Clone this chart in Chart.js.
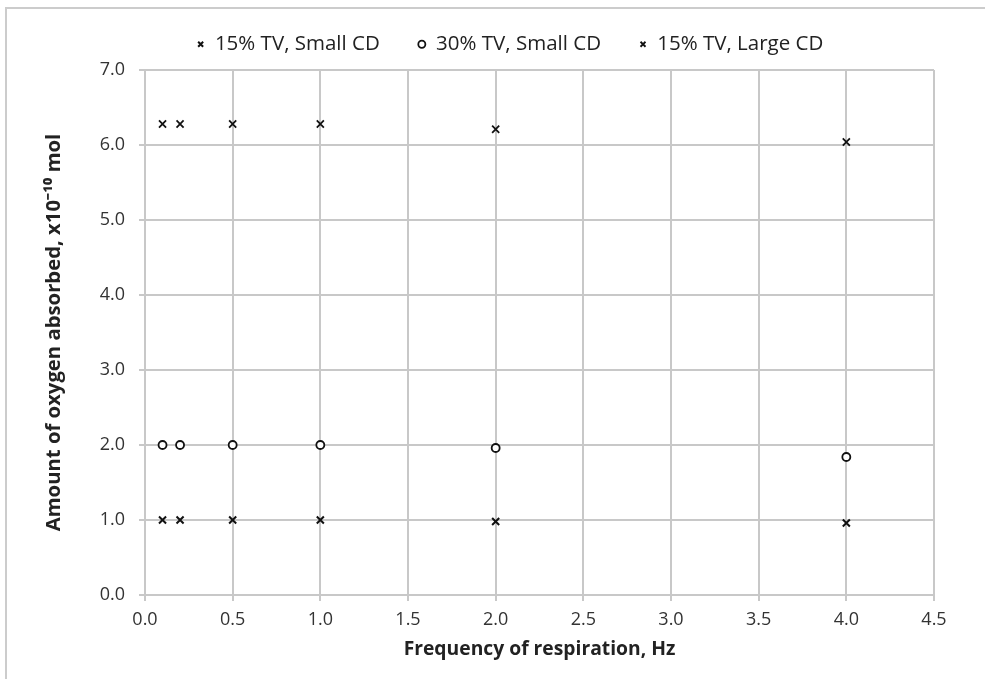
<!DOCTYPE html>
<html>
<head>
<meta charset="utf-8">
<script src="https://cdn.jsdelivr.net/npm/chart.js"></script>
<style>
  html, body { margin:0; padding:0; background:#fff; }
  #frame { position:absolute; left:5px; top:7px; width:1000px; height:700px; border-top:2px solid #cccccc; border-left:2px solid #cccccc; }
  #wrap { position:absolute; left:0; top:0; width:985px; height:679px; }
</style>
</head>
<body>
<div id="frame"></div>
<div id="wrap"><canvas id="chart" width="985" height="679"></canvas></div>
<script>
// Dados
var freq = [0.1, 0.2, 0.5, 1.0, 2.0, 4.0];
var tv15_small = [1.00, 1.00, 1.00, 1.00, 0.98, 0.96];
var tv30_small = [2.00, 2.00, 2.00, 2.00, 1.96, 1.84];
var tv15_large = [6.28, 6.28, 6.28, 6.28, 6.21, 6.04];
var series_labels = ['15% TV, Small CD', '30% TV, Small CD', '15% TV, Large CD'];

var font_family = "'Open Sans', sans-serif";
var grid_color = '#c8c8c8';

function pts(ys) {
    var out = [];
    for (var i = 0; i < freq.length; i++) out.push({ x: freq[i], y: ys[i] });
    return out;
}

var datasets = [
    { label: series_labels[0], data: pts(tv15_small), pointStyle: 'crossRot', pointRadius: 5, pointBorderWidth: 2, borderColor: '#111', backgroundColor: '#111' },
    { label: series_labels[1], data: pts(tv30_small), pointStyle: 'circle', pointRadius: 4, pointBorderWidth: 1.8, borderColor: '#111', backgroundColor: '#fff' },
    { label: series_labels[2], data: pts(tv15_large), pointStyle: 'crossRot', pointRadius: 5, pointBorderWidth: 1.8, borderColor: '#111', backgroundColor: '#111' }
];

// altura e deslocamento da legenda
var legendPos = {
    id: 'legendPos',
    beforeInit: function(chart) {
        var fit = chart.legend.fit;
        chart.legend.fit = function() {
            fit.call(this);
            this.height = 74;
        };
    },
    afterLayout: function(chart) {
        chart.legend.left += 66;
    }
};

new Chart(document.getElementById('chart'), {
    type: 'scatter',
    data: { datasets: datasets },
    options: {
        responsive: false,
        animation: false,
        layout: { padding: { left: 20, right: 51, top: -4, bottom: 0 } },
        plugins: {
            legend: {
                position: 'top',
                labels: {
                    usePointStyle: true,
                    boxHeight: 5,
                    boxWidth: 8,
                    padding: 38,
                    color: '#222',
                    font: { family: font_family, size: 20.5 }
                }
            },
            tooltip: { enabled: false }
        },
        scales: {
            x: {
                type: 'linear', min: 0, max: 4.5,
                ticks: { stepSize: 0.5, color: '#333', padding: 8, font: { family: font_family, size: 18 },
                         callback: function(v) { return v.toFixed(1); } },
                grid: { color: grid_color, lineWidth: 2, tickLength: 6 },
                border: { color: grid_color, width: 2 },
                title: { display: true, text: 'Frequency of respiration, Hz', color: '#222',
                         font: { family: font_family, size: 19.3, weight: 'bold' }, padding: { bottom: 18 } },
                afterFit: function(s) { s.height = 84; }
            },
            y: {
                min: 0, max: 7,
                ticks: { stepSize: 1, color: '#333', padding: 14, font: { family: font_family, size: 18 },
                         callback: function(v) { return v.toFixed(1); } },
                grid: { color: grid_color, lineWidth: 2, tickLength: 6 },
                border: { color: grid_color, width: 2 },
                title: { display: true, text: 'Amount of oxygen absorbed, x10\u207B\u00B9\u2070 mol', color: '#222',
                         font: { family: font_family, size: 20.3, weight: 'bold' }, padding: { top: 22 } },
                afterFit: function(s) { s.width = 125; }
            }
        }
    },
    plugins: [legendPos]
});
</script>
</body>
</html>
